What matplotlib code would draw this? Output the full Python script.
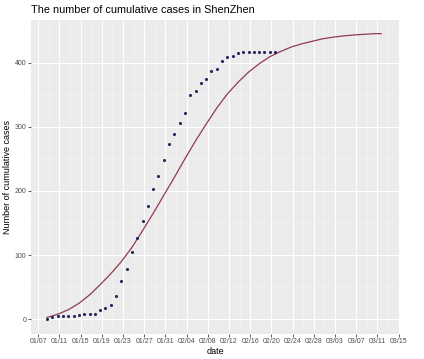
import numpy as np
import pandas as pd
import matplotlib
matplotlib.use("Agg")
import matplotlib.pyplot as plt
import matplotlib.dates as mdates
from matplotlib.patches import Rectangle

plt.rcParams["font.family"] = ["Liberation Sans", "DejaVu Sans"]

# observed cumulative cases, one per day from 2020-01-09
case_start = "2020-01-09"
cases = [1, 4, 5, 5, 5, 6, 7, 8, 9, 9,
         15, 17, 22, 37, 60, 78, 105, 126, 153, 177,
         203, 223, 248, 273, 289, 306, 322, 350, 356, 368,
         375, 387, 390, 403, 408, 410, 415, 416, 416, 416,
         416, 416, 416, 417]

# fitted curve, read every two days from 2020-01-09 to 2020-03-12
fit_dates = ["2020-01-09", "2020-01-11", "2020-01-13", "2020-01-15", "2020-01-17",
             "2020-01-19", "2020-01-21", "2020-01-23", "2020-01-25", "2020-01-27",
             "2020-01-29", "2020-01-31", "2020-02-02", "2020-02-04", "2020-02-06",
             "2020-02-08", "2020-02-10", "2020-02-12", "2020-02-14", "2020-02-16",
             "2020-02-18", "2020-02-20", "2020-02-22", "2020-02-24", "2020-02-26",
             "2020-02-28", "2020-03-01", "2020-03-03", "2020-03-05", "2020-03-07",
             "2020-03-09", "2020-03-11", "2020-03-12"]
fit_values = [3, 8, 15, 25, 38, 54, 71, 90, 112, 138,
              165, 193, 221, 250, 278, 304, 329, 351, 369, 385,
              398, 409, 417, 424, 429, 433, 437, 439.5, 441.5, 443,
              444, 445, 445]

tick_start, tick_end = "2020-01-07", "2020-03-15"
y_breaks = [0, 100, 200, 300, 400]

# dates are stored in UTC, axis breaks fall on local (UTC+8) midnight
tz_shift = pd.Timedelta(hours=-8)
case_x = pd.date_range(case_start, periods=len(cases), freq="D") + tz_shift
fit_x = pd.to_datetime(fit_dates) + tz_shift

fig = plt.figure(figsize=(4.24, 3.59), dpi=100)
ax = fig.add_axes([31 / 424, 1 - 333.5 / 359, 369 / 424, 314 / 359])
ax.set_facecolor("#EBEBEB")

ax.plot(fit_x, fit_values, color="#8E3B52", lw=0.9, zorder=3)
ax.scatter(case_x, cases, s=5, color="#26265E", zorder=4, linewidths=0)

major = pd.date_range(tick_start, tick_end, freq="4D")
minor = major[:-1] + pd.Timedelta(days=2)
ax.set_xticks(major)
ax.set_xticks(minor, minor=True)
ax.xaxis.set_major_formatter(mdates.DateFormatter("%m/%d"))
ax.set_yticks(y_breaks)
ax.set_yticks([b + 50 for b in y_breaks], minor=True)

ax.set_xlim(pd.Timestamp("2020-01-05 15:00"), pd.Timestamp("2020-03-15 06:00"))
ax.set_ylim(-22, 467)

ax.grid(which="major", color="white", lw=0.8)
ax.grid(which="minor", color="#F5F5F5", lw=0.4)
ax.set_axisbelow(True)
for s in ax.spines.values():
    s.set_visible(False)
ax.tick_params(which="major", length=2, width=0.6, color="#444444",
               labelsize=5, labelcolor="#4D4D4D", pad=1.5)
ax.tick_params(which="minor", length=0)

ax.set_xlabel("date", fontsize=6.5, labelpad=1.5)
ax.set_ylabel("Number of cumulative cases", fontsize=6.5, labelpad=2)
fig.text(31 / 424, 1 - 10 / 359, "The number of cumulative cases in ShenZhen",
         fontsize=7.8, va="center", ha="left")

# screenshot is cut on the right, hiding part of the last label
fig.add_artist(Rectangle((409.5 / 424, 0), 1, 0.08, transform=fig.transFigure,
                         facecolor="white", edgecolor="none", zorder=10))

fig.savefig("out.png", dpi=100)
